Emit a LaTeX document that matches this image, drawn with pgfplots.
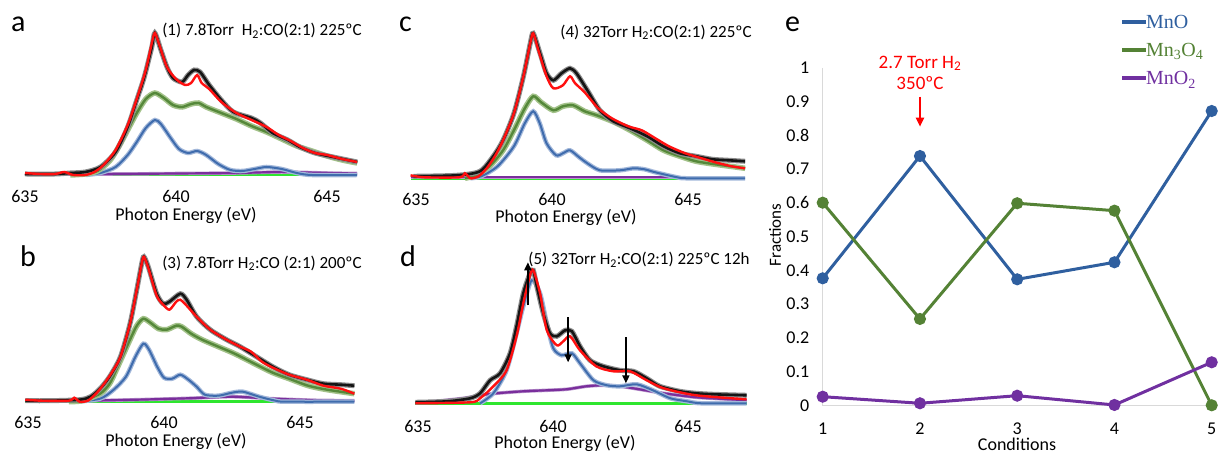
\documentclass[border=0pt]{standalone}
\usepackage{pgfplots}
\pgfplotsset{compat=1.18}
\usepackage{fontspec}
\setmainfont{Carlito}
\newfontfamily\seriffont{Liberation Serif}
\usetikzlibrary{arrows.meta}
\definecolor{cblack}{HTML}{151515}
\definecolor{chalo}{HTML}{8C8C8C}
\definecolor{cred}{HTML}{FF1010}
\definecolor{cgreen}{HTML}{55883A}
\definecolor{cgreenh}{HTML}{A3C28A}
\definecolor{cblue}{HTML}{3F6CAD}
\definecolor{cblueh}{HTML}{A3B8DA}
\definecolor{cpurple}{HTML}{7A2E9C}
\definecolor{cpurpleh}{HTML}{B995CC}
\definecolor{clime}{HTML}{2EE62E}
\definecolor{eblue}{HTML}{2F5F9F}
\definecolor{egreen}{HTML}{548235}
\definecolor{epurple}{HTML}{7030A0}
\newcommand{\tf}{\fontsize{18}{21}\selectfont}
\pgfplotsset{
  spec/.style={scale only axis, height=150pt, ymin=0, ymax=150,
    axis line style={draw=none}, ytick=\empty, xtick={635,640,645},
    tick style={draw=none}, major tick length=0pt, clip=false,
    xticklabel style={font=\tf, anchor=center},
    /pgf/number format/assume math mode=true,
    every axis plot/.append style={smooth, tension=0.45, no markers}},
  sblack/.style={cblack, line width=2.6pt, preaction={draw=chalo, line width=5pt}},
  sred/.style={cred, line width=2.4pt},
  sgreen/.style={cgreen, line width=2.4pt, preaction={draw=cgreenh, line width=5.5pt}},
  sblue/.style={cblue, line width=2pt, preaction={draw=cblueh, line width=4.5pt}},
  spurple/.style={cpurple, line width=2.2pt, preaction={draw=cpurpleh, line width=3.5pt}},
  slime/.style={clime, line width=2.6pt},
}
\begin{document}
\begin{tikzpicture}
\useasboundingbox (0pt,0pt) rectangle (1218pt,454pt);
% ---------------- panel a
\begin{axis}[spec, at={(9.9pt,279pt)}, anchor=south west, width=362.4pt,
  xmin=634.5, xmax=646.5, xticklabel style={yshift=-21pt}]
\addplot[slime] coordinates {(635,0)(646,0)};
\addplot[spurple] coordinates {(635,1)(638,1)(640,1.5)(642,2)(643.5,3)(645,2)(646,1.5)};
\addplot[sblue] coordinates {(637.0,0)(637.5,2)(638.0,8)(638.4,20)(638.7,33)(639.0,47)(639.3,55)(639.5,51)(639.8,38)(640.1,26)(640.4,22)(640.7,24)(641.0,20)(641.4,11)(641.8,5)(642.2,4)(642.6,6)(643.0,8)(643.5,6)(644.0,2)(644.5,0)(646.0,0)};
\addplot[sgreen] coordinates {(636.5,0)(637.0,1)(637.4,4)(637.8,14)(638.1,28)(638.4,45)(638.7,62)(639.0,76)(639.3,82)(639.6,77)(639.9,70)(640.2,68)(640.5,71)(640.75,72)(641.0,68)(641.5,62)(642.0,56)(642.5,49)(643.0,43)(643.5,36)(644.0,29)(644.5,24)(645.0,19)(645.5,15)(646.0,12)};
\addplot[sblack] coordinates {(635.0,1)(636.0,1)(636.5,2)(637.0,3)(637.5,8)(638.0,23)(638.4,48)(638.7,75)(638.95,98)(639.2,128)(639.3,142)(639.5,125)(639.7,108)(639.9,97)(640.2,93)(640.4,100)(640.6,105)(640.8,103)(641.1,90)(641.5,75)(641.9,63)(642.5,57)(642.8,52)(643.2,42)(643.7,35)(644.1,28)(644.6,22)(645.2,18)(646.0,13)};
\addplot[sred] coordinates {(635.0,2)(635.5,1)(636.0,1)(636.3,3)(636.6,0)(637.0,0)(637.3,3)(637.6,10)(638.0,25)(638.4,50)(638.7,76)(639.0,105)(639.2,132)(639.3,142)(639.45,130)(639.7,108)(640.0,96)(640.3,90)(640.5,92)(640.7,100)(640.85,92)(641.1,86)(641.5,73)(642.0,62)(642.5,55)(643.0,48)(643.4,40)(643.8,34)(644.2,27)(644.6,22)(645.0,20)(645.5,16)(646.0,13)};
\end{axis}
% ---------------- panel b
\begin{axis}[spec, at={(14.4pt,52.3pt)}, anchor=south west, width=353.6pt,
  xmin=634.5, xmax=647.5, xticklabel style={yshift=-21pt}]
\addplot[slime] coordinates {(634.9,0)(647,0)};
\addplot[spurple] coordinates {(634.9,1)(637,1)(639,2)(641,3.5)(642.5,5)(644,3)(645.5,1.5)(647,1)};
\addplot[sblue] coordinates {(636.8,0)(637.65,3)(638.15,12)(638.6,25)(638.95,45)(639.24,58)(639.45,52)(639.75,35)(640.0,24)(640.3,23)(640.6,27)(640.9,22)(641.2,15)(641.5,7)(642.0,6)(642.5,9)(642.9,10)(643.5,5)(644.1,1)(644.5,0)(647.0,0)};
\addplot[sgreen] coordinates {(636.5,0)(637.0,1)(637.65,8)(638.0,18)(638.25,32)(638.75,62)(639.0,76)(639.24,83)(639.5,79)(639.8,73)(640.1,72)(640.45,76)(640.65,75)(641.0,68)(641.4,62)(642.0,55)(642.6,48)(643.4,37)(644.0,29)(644.6,23)(645.3,16)(646.0,12)(647.0,8)};
\addplot[sblack] coordinates {(634.9,1)(635.8,1)(636.9,2)(637.3,5)(637.65,13)(638.0,25)(638.4,45)(638.75,78)(639.0,112)(639.18,138)(639.26,145)(639.42,135)(639.73,108)(639.97,98)(640.2,100)(640.6,108)(640.83,102)(641.2,85)(641.7,72)(642.3,62)(642.8,55)(643.4,45)(644.0,35)(644.6,27)(645.25,22)(645.86,18)(646.5,17)(647.0,16)};
\addplot[sred] coordinates {(634.9,2)(635.5,1)(636.5,1)(636.7,4)(636.9,0)(637.2,1)(637.5,8)(637.8,18)(638.1,30)(638.4,45)(638.75,78)(639.0,112)(639.18,138)(639.26,145)(639.42,134)(639.73,106)(639.97,97)(640.2,92)(640.45,100)(640.6,102)(640.8,97)(641.2,85)(641.7,72)(642.3,62)(642.8,55)(643.2,50)(643.6,40)(644.0,34)(644.6,27)(645.25,22)(645.86,16)(646.5,13)(647.0,8)};
\end{axis}
% ---------------- panel c
\begin{axis}[spec, at={(402.4pt,275.7pt)}, anchor=south west, width=353.6pt,
  xmin=634.5, xmax=647.5, xticklabel style={yshift=-21pt}]
\addplot[slime] coordinates {(634.8,0)(647.1,0)};
\addplot[spurple] coordinates {(634.8,1)(640,1)(647.1,1)};
\addplot[sblue] coordinates {(637.0,0)(637.4,2)(638.0,12)(638.6,32)(639.0,55)(639.31,67)(639.55,55)(639.8,35)(640.15,23)(640.4,25)(640.66,28)(641.0,21)(641.3,15)(641.76,8)(642.5,8)(643.0,10)(643.4,9)(643.8,6)(644.6,1)(645.0,0)(647.1,0)};
\addplot[sgreen] coordinates {(636.8,0)(637.2,3)(637.7,12)(638.2,28)(638.6,48)(639.0,70)(639.31,82)(639.6,76)(640.05,68)(640.4,72)(640.78,73)(641.2,67)(641.65,63)(642.3,56)(642.87,48)(643.5,38)(644.1,28)(644.7,22)(645.3,17)(646.0,14)(647.1,10)};
\addplot[sblack] coordinates {(634.9,2)(636.5,3)(637.35,7)(637.84,22)(638.2,38)(638.6,65)(638.95,102)(639.2,135)(639.31,145)(639.56,125)(639.8,105)(640.05,98)(640.35,105)(640.66,110)(640.9,105)(641.3,88)(641.76,68)(642.25,57)(642.87,50)(643.5,42)(644.1,32)(644.7,25)(645.3,22)(645.9,19)(646.5,18)(647.1,17)};
\addplot[sred] coordinates {(634.8,3)(635.3,1)(636.6,1)(636.8,5)(637.0,0)(637.3,2)(637.6,10)(637.9,22)(638.2,38)(638.6,65)(638.95,102)(639.2,135)(639.31,145)(639.5,128)(639.8,102)(640.05,90)(640.4,93)(640.66,102)(640.85,95)(641.2,86)(641.7,70)(642.2,60)(642.8,52)(643.3,48)(643.8,40)(644.3,32)(644.9,25)(645.5,20)(646.0,16)(646.6,12)(647.1,10)};
\end{axis}
% ---------------- panel d
\begin{axis}[spec, at={(404.5pt,50.7pt)}, anchor=south west, width=351pt,
  xmin=634.5, xmax=647.5, xticklabel style={yshift=-23pt}]
\addplot[slime] coordinates {(634.9,0)(647.17,0)};
\addplot[spurple] coordinates {(635.3,1)(636.68,5)(637.3,8)(637.9,10)(638.9,12)(639.77,13)(640.5,14)(641.24,17)(641.86,18)(642.48,17)(643.2,14)(644.1,10)(645.3,6)(646.55,4)(647.17,3)};
\addplot[sblue] coordinates {(637.3,0)(637.79,10)(638.28,33)(638.65,70)(638.9,97)(639.21,123)(639.52,110)(639.77,80)(640.01,55)(640.32,48)(640.7,50)(641.0,40)(641.5,23)(642.0,18)(642.48,17)(643.1,19)(643.7,13)(644.35,5)(644.96,2)(645.5,0)(647.17,0)};
\addplot[sblack] coordinates {(634.9,1)(636.1,2)(636.93,5)(637.3,10)(637.67,23)(638.04,30)(638.41,50)(638.65,77)(638.9,110)(639.15,130)(639.27,133)(639.4,117)(639.64,90)(639.89,70)(640.14,67)(640.45,73)(640.7,72)(641.0,57)(641.37,43)(641.86,37)(642.48,33)(642.98,32)(643.47,25)(643.96,17)(644.7,12)(645.3,10)(645.94,9)(647.17,8)};
\addplot[sred] coordinates {(634.9,0)(636.93,1)(637.3,5)(637.79,17)(638.28,33)(638.65,67)(638.9,100)(639.15,128)(639.27,133)(639.52,110)(639.77,73)(640.14,58)(640.38,62)(640.63,67)(641.0,53)(641.6,37)(642.23,32)(642.85,32)(643.47,23)(644.1,15)(645.3,8)(647.17,4)};
\draw[black, line width=1.8pt, -{Triangle[length=8pt,width=7pt]}] (axis cs:639.07,98) -- (axis cs:639.07,141);
\draw[black, line width=1.8pt, -{Triangle[length=8pt,width=7pt]}] (axis cs:640.56,86) -- (axis cs:640.56,41);
\draw[black, line width=1.8pt, -{Triangle[length=8pt,width=7pt]}] (axis cs:642.7,66) -- (axis cs:642.7,20);
\end{axis}
% ---------------- panel e
\begin{axis}[scale only axis, at={(822.7pt,48.7pt)}, anchor=south west,
  width=389pt, height=337.3pt, xmin=1, xmax=5, ymin=0, ymax=1,
  axis line style={draw=none}, tick style={draw=none}, clip=false,
  xtick={1,2,3,4,5}, ytick={0,0.1,0.2,0.3,0.4,0.5,0.6,0.7,0.8,0.9,1},
  xticklabel style={font=\tf, anchor=center, yshift=-23pt},
  yticklabel style={font=\tf, anchor=east, xshift=-10pt},
  /pgf/number format/assume math mode=true]
\draw[gray!30, line width=1pt] (axis cs:1,1) -- (axis cs:1,0) -- (axis cs:5,0);
\addplot[eblue, line width=3pt, mark=*, mark size=4.5pt] coordinates {(1,0.3765)(2,0.739)(3,0.3735)(4,0.424)(5,0.8725)};
\addplot[egreen, line width=3pt, mark=*, mark size=4.5pt] coordinates {(1,0.6007)(2,0.256)(3,0.599)(4,0.577)(5,0.0)};
\addplot[epurple, line width=3pt, mark=*, mark size=4.5pt] coordinates {(1,0.0255)(2,0.006)(3,0.0285)(4,0.001)(5,0.1275)};
\end{axis}
% ---------------- texts
\node[anchor=base west, font=\fontsize{30}{34}\selectfont, inner sep=0pt] at (11pt,422pt) {a};
\node[anchor=base west, font=\fontsize{30}{34}\selectfont, inner sep=0pt] at (20pt,187.3pt) {b};
\node[anchor=base west, font=\fontsize{30}{34}\selectfont, inner sep=0pt] at (399pt,422.3pt) {c};
\node[anchor=base west, font=\fontsize{30}{34}\selectfont, inner sep=0pt] at (400pt,187.3pt) {d};
\node[anchor=base west, font=\fontsize{30}{34}\selectfont, inner sep=0pt] at (785pt,422.3pt) {e};
\node[anchor=base, font=\fontsize{17}{20}\selectfont, inner sep=0pt] at (262pt,418pt) {(1) 7.8Torr\ \ H\textsubscript{2}:CO(2:1) 225ºC};
\node[anchor=base, font=\fontsize{17}{20}\selectfont, inner sep=0pt] at (262pt,185.7pt) {(3) 7.8Torr H\textsubscript{2}:CO (2:1) 200ºC};
\node[anchor=base, font=\fontsize{17}{20}\selectfont, inner sep=0pt] at (656pt,416.7pt) {(4) 32Torr H\textsubscript{2}:CO(2:1) 225ºC};
\node[anchor=base, font=\fontsize{17}{20}\selectfont, inner sep=0pt] at (639pt,189pt) {(5) 32Torr H\textsubscript{2}:CO(2:1) 225ºC 12h};
\node[font=\tf, inner sep=0pt] at (186pt,239pt) {Photon Energy (eV)};
\node[font=\tf, inner sep=0pt] at (176pt,13pt) {Photon Energy (eV)};
\node[font=\tf, inner sep=0pt] at (566pt,237pt) {Photon Energy (eV)};
\node[font=\tf, inner sep=0pt] at (565pt,11pt) {Photon Energy (eV)};
\node[font=\tf, inner sep=0pt] at (1017pt,10pt) {Conditions};
\node[font=\fontsize{17}{20}\selectfont, inner sep=0pt, rotate=90] at (775pt,219pt) {Fractions};
\node[anchor=base, font=\fontsize{19}{22}\selectfont, text=red, inner sep=0pt] at (920pt,385.7pt) {2.7 Torr H\textsubscript{2}};
\node[anchor=base, font=\fontsize{19}{22}\selectfont, text=red, inner sep=0pt] at (920pt,364.7pt) {350ºC};
\draw[red, line width=2pt, -{Triangle[length=9pt,width=8pt]}] (920pt,357.3pt) -- (920pt,327.3pt);
\draw[eblue, line width=4pt] (1122pt,432.3pt) -- (1146pt,432.3pt);
\draw[egreen, line width=4pt] (1122pt,404pt) -- (1146pt,404pt);
\draw[epurple, line width=4pt] (1122pt,375.7pt) -- (1146pt,375.7pt);
\node[anchor=base west, font=\seriffont\fontsize{20}{24}\selectfont, text=eblue, inner sep=0pt] at (1146pt,425.7pt) {MnO};
\node[anchor=base west, font=\seriffont\fontsize{20}{24}\selectfont, text=egreen, inner sep=0pt] at (1146pt,397.4pt) {Mn\textsubscript{3}O\textsubscript{4}};
\node[anchor=base west, font=\seriffont\fontsize{20}{24}\selectfont, text=epurple, inner sep=0pt] at (1146pt,369pt) {MnO\textsubscript{2}};
\end{tikzpicture}
\end{document}
